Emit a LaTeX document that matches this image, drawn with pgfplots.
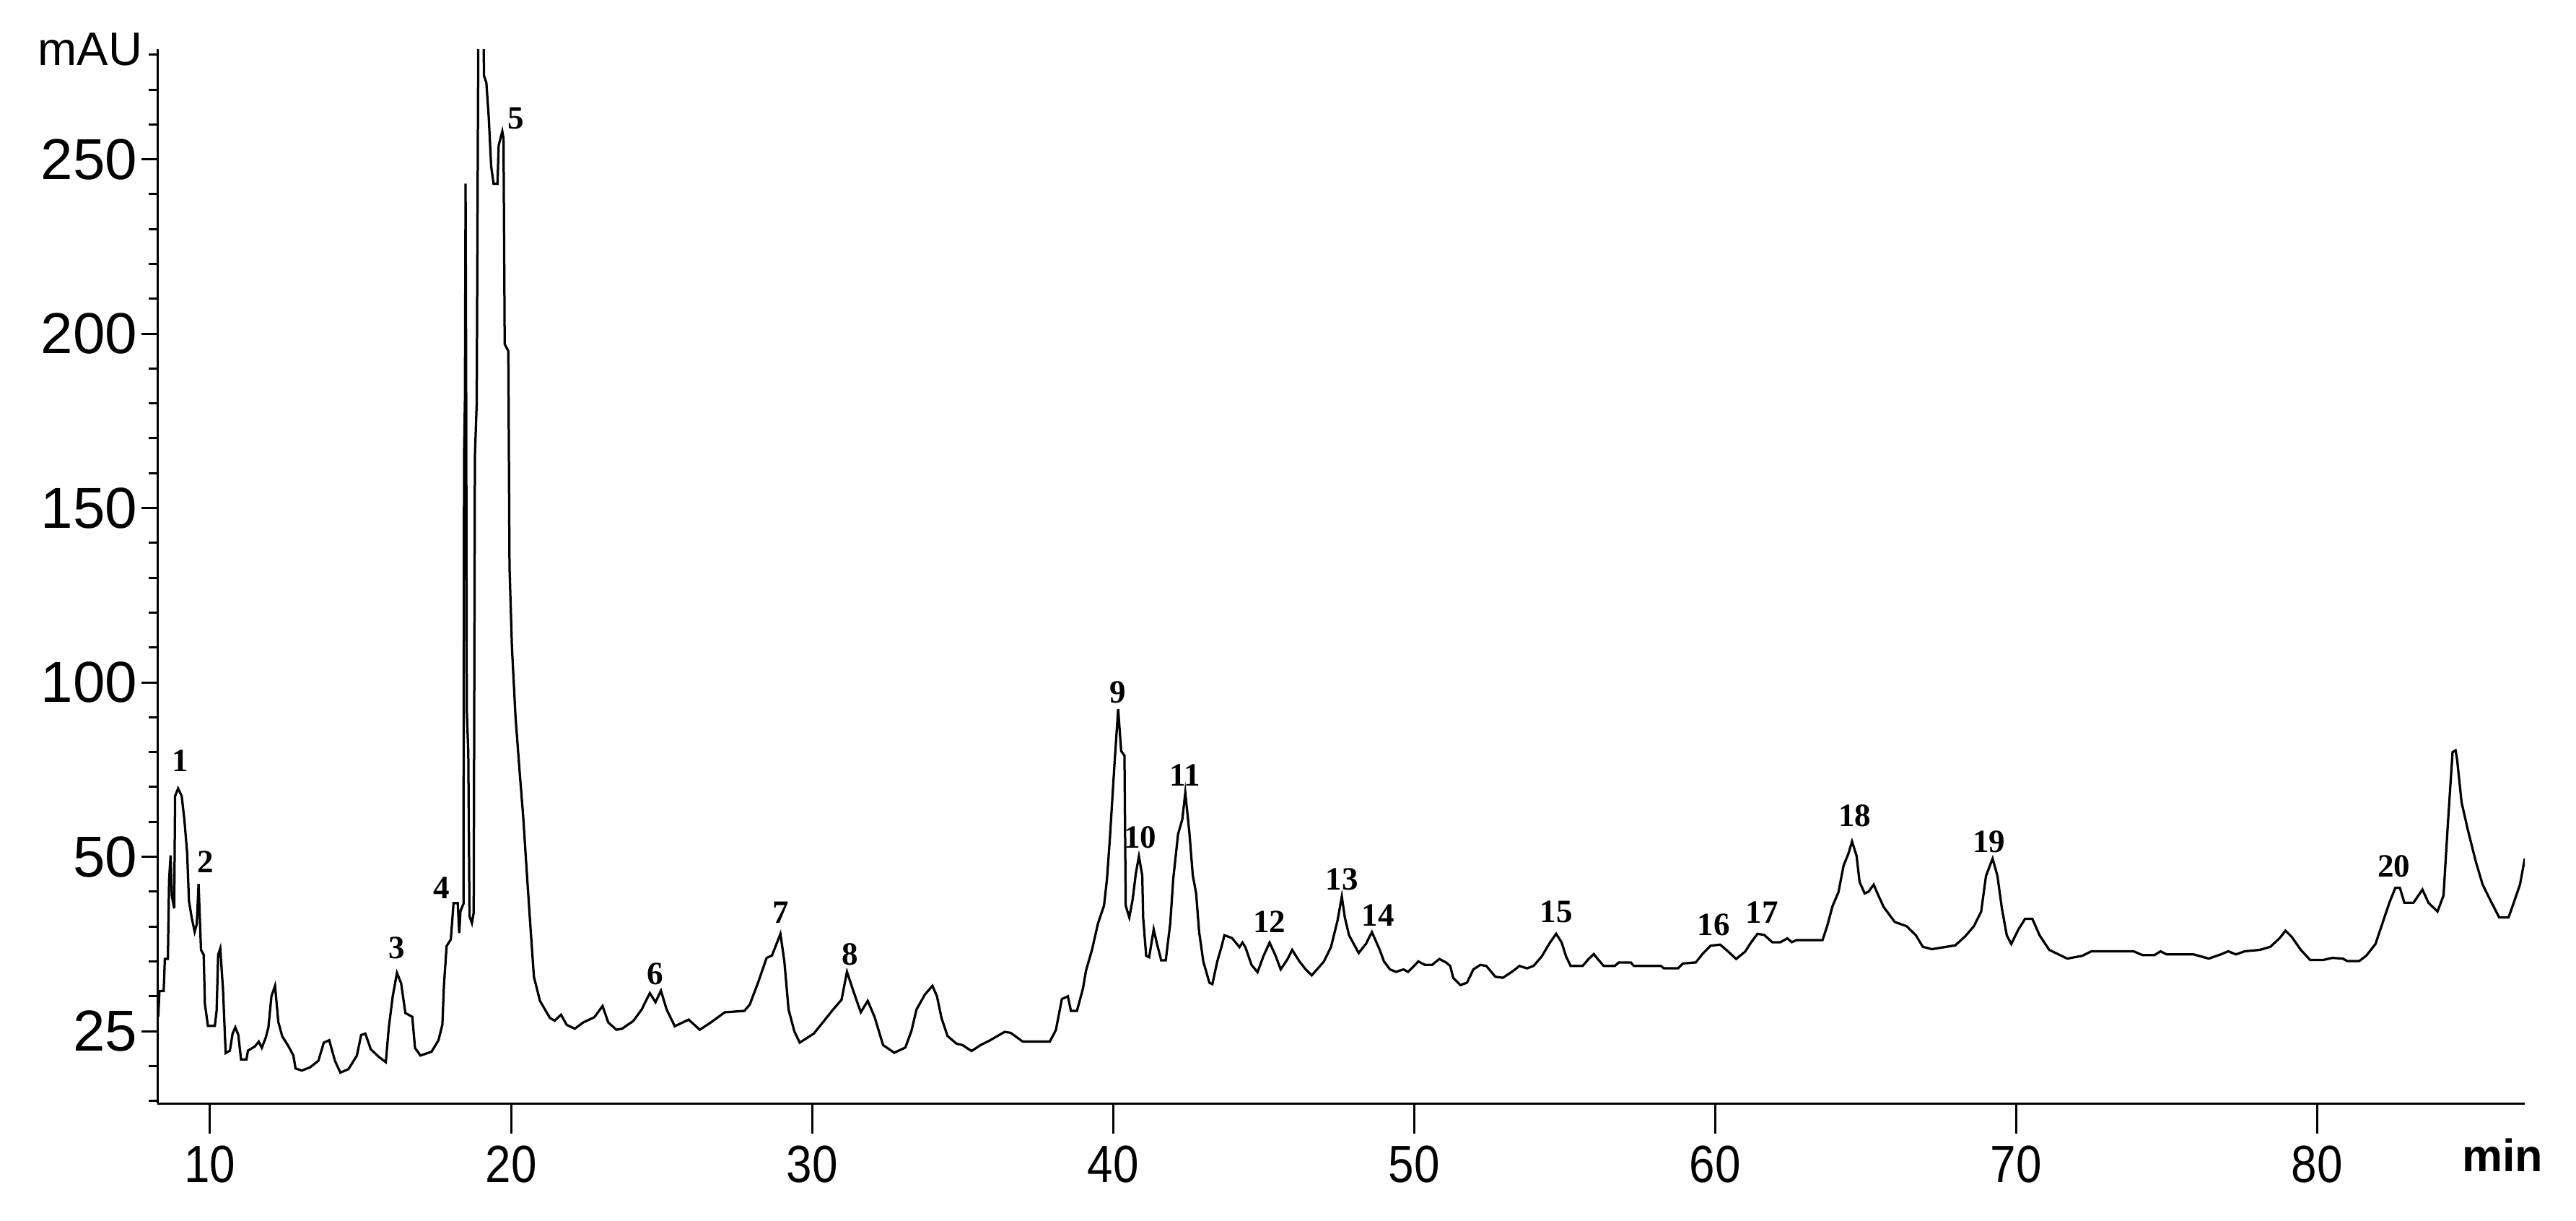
\documentclass[border=0pt]{standalone}
\usepackage{pgfplots}
\pgfplotsset{compat=1.18}
\usepackage{fontspec}
\setmainfont{Liberation Sans}
\newfontfamily\peakfont{Liberation Serif}

\newcommand\xl[1]{\scalebox{0.88}[1]{#1}}

% chromatogram trace, time (min) vs signal
\pgfplotstableread{
t y
8.28 4.1
8.32 11.5
8.46 11.5
8.5 20.7
8.6 20.7
8.64 43.3
8.69 50.4
8.73 38.9
8.81 35.2
8.84 67.4
8.94 69.6
9.06 67.4
9.15 60.4
9.24 51.1
9.3 37.4
9.39 32.6
9.49 28.5
9.56 30.7
9.62 42.2
9.7 23.3
9.79 21.9
9.83 7.8
9.93 1.5
10.16 1.5
10.22 5.9
10.27 21.9
10.34 23.7
10.43 12.2
10.52 -6.3
10.66 -5.6
10.75 -0.7
10.84 1.1
10.94 -1.1
11.03 -8.1
11.21 -8.1
11.26 -5.6
11.49 -4.4
11.62 -3
11.72 -4.8
11.85 -1.9
11.94 1.1
12.04 10
12.16 13
12.27 2.6
12.4 -1.5
12.59 -4.1
12.77 -7
12.84 -10.7
13.05 -11.3
13.32 -10.4
13.6 -8.5
13.78 -3.3
13.96 -2.6
14.15 -8.5
14.33 -11.9
14.6 -10.9
14.88 -7
15.02 -1.1
15.16 -0.7
15.34 -5.2
15.61 -7.4
15.84 -8.9
15.94 1.1
16.07 10
16.21 16.7
16.35 13.7
16.49 5.2
16.72 4.1
16.81 -4.8
16.99 -7
17.36 -5.9
17.59 -2.6
17.72 1.9
17.77 13
17.86 24.4
18.0 26.3
18.09 36.7
18.23 36.7
18.28 28.1
18.32 34.4
18.39 35.9
18.42 36.5
18.44 165
18.47 182
18.49 243
18.51 182
18.53 92
18.58 80
18.62 33
18.7 31
18.76 34
18.8 165
18.86 180
18.92 300
19.08 300
19.1 274
19.18 272
19.26 262
19.34 248
19.42 243
19.55 243
19.59 254
19.71 258
19.75 256
19.79 197
19.91 195
19.95 133
20.03 110
20.15 90
20.28 75
20.4 62
20.52 46
20.64 30.5
20.76 15.6
20.96 8.7
21.29 3.8
21.45 3
21.66 4.7
21.85 1.8
22.12 0.7
22.4 2.5
22.77 4
23.04 7.2
23.23 2.5
23.5 0.4
23.69 0.7
24.06 2.9
24.34 6.2
24.61 10.9
24.8 8.3
24.98 11.6
25.17 6.2
25.44 1.4
25.9 3.3
26.27 0.4
26.64 2.5
27.1 5.4
27.75 5.8
27.93 7.6
28.21 14
28.49 21
28.67 21.7
28.95 27.9
29.08 20
29.22 6.2
29.41 0
29.59 -3.3
30.06 -0.7
30.7 6.2
30.98 9
31.16 17
31.44 9.8
31.62 5.4
31.85 8.7
32.08 4
32.36 -4
32.73 -6.2
33.1 -4.7
33.3 0
33.47 6.2
33.75 10.5
34.0 13
34.15 10
34.3 3.8
34.5 -1.4
34.8 -3.6
35.0 -4
35.3 -5.7
35.6 -4
35.9 -2.7
36.4 -0.2
36.6 -0.5
37.0 -3
37.9 -3
38.1 0.3
38.3 9.2
38.5 10
38.6 5.8
38.8 5.8
39.0 12.2
39.1 17.3
39.3 23.3
39.5 30.9
39.7 36
39.8 43.7
39.9 56
40.05 76.9
40.17 92.3
40.27 80.3
40.38 79
40.42 36
40.54 32.6
40.65 37.7
40.76 45.4
40.86 50.1
40.97 44.6
41.0 32.6
41.1 21.6
41.2 21.2
41.35 29.2
41.46 25
41.6 20.3
41.75 20.3
41.9 30.9
42.0 43.7
42.16 56.5
42.3 60.7
42.4 68.4
42.54 56.5
42.65 44.6
42.76 39.5
42.86 28.4
43.0 19.9
43.2 13.9
43.3 13.5
43.46 19.9
43.6 24.1
43.7 27.5
43.95 26.7
44.2 24.1
44.3 25.4
44.4 24
44.6 19
44.8 16.9
45.0 21.6
45.2 25.4
45.4 21.6
45.57 17.7
45.8 20.7
45.95 23.3
46.2 19.9
46.4 17.7
46.6 16
47.0 19.9
47.24 24.1
47.46 31.8
47.6 38.6
47.7 32.6
47.84 27.5
48.16 22.4
48.4 25
48.6 28.4
48.85 23.5
49.0 20
49.2 17.7
49.4 17
49.65 17.7
49.8 17
50.0 18.7
50.14 20
50.36 19
50.6 19
50.84 20.7
51.06 19.7
51.2 18.7
51.3 15.3
51.54 13.2
51.76 13.9
51.97 17.7
52.2 19
52.4 18.7
52.7 15.6
52.95 15.3
53.3 17.3
53.5 18.7
53.75 18
53.97 18.7
54.24 21.4
54.5 25.2
54.72 27.9
54.9 25.5
55.05 21.4
55.2 18.7
55.6 18.7
55.8 20.7
55.97 22.1
56.1 20.7
56.3 18.7
56.67 18.7
56.8 19.7
57.2 19.7
57.3 18.7
58.2 18.7
58.3 18
58.77 18
58.93 19.4
59.36 19.7
59.58 22.1
59.85 24.5
60.17 24.8
60.4 23.1
60.7 20.7
61.0 22.8
61.2 25.5
61.41 27.9
61.63 27.6
61.9 25.5
62.17 25.5
62.4 26.6
62.55 25.5
62.7 26.1
63.57 26.1
63.73 30.3
63.9 35.8
64.1 39.9
64.27 47.5
64.43 50.9
64.55 54.4
64.7 50.3
64.8 42.8
64.97 39.5
65.1 40
65.27 42
65.4 39.4
65.6 35.6
65.97 31.3
66.36 30.1
66.67 27.5
66.9 24.2
67.2 23.5
67.98 24.6
68.3 27.1
68.6 30.1
68.84 34.3
69.0 44.5
69.22 49.5
69.38 44.5
69.53 35.1
69.69 27.5
69.84 25
70.08 29.2
70.3 32.2
70.54 32.2
70.78 27.5
71.1 23.3
71.7 20.8
72.2 21.6
72.5 22.9
73.9 22.9
74.2 21.8
74.6 21.8
74.8 22.9
75.0 22
75.9 22
76.4 20.8
76.8 22
77.05 22.9
77.3 22
77.6 22.9
78.1 23.3
78.45 24.2
78.76 26.7
78.95 28.8
79.15 27.1
79.46 23.3
79.77 20.4
80.2 20.4
80.5 21
80.85 20.8
81.0 20.1
81.4 20.1
81.63 21.6
81.94 25
82.17 30.9
82.4 36.8
82.6 41.1
82.75 41.1
82.9 36.8
83.2 36.8
83.5 40.6
83.7 36.8
84.0 34.3
84.2 38.9
84.34 58.8
84.5 80
84.6 80.5
84.65 78
84.8 65.6
85.0 58
85.27 48.7
85.5 42
85.8 36.8
86.05 32.6
86.36 32.6
86.5 36
86.74 42
86.9 49.5
}\trace

\begin{document}
\begin{tikzpicture}
\useasboundingbox (-43.6pt,-32.4pt) rectangle (670.2pt,305.6pt);
\begin{axis}[
 scale only axis,
 width=656pt, height=292pt,
 xmin=8.25, xmax=86.9,
 ymin=-20.7, ymax=281.6,
 axis x line*=bottom,
 axis y line*=left,
 axis line style={line width=0.6pt},
 clip mode=individual,
 tick align=outside,
 major tick length=4.4pt,
 minor tick length=2.4pt,
 every tick/.style={black, line width=0.6pt},
 xtick=\empty,
 extra x ticks={10,20,...,80},
 extra x tick labels={\xl{10},\xl{20},\xl{30},\xl{40},\xl{50},\xl{60},\xl{70},\xl{80}},
 extra x tick style={major tick length=8.3pt, tick label style={font=\fontsize{14.5}{16}\selectfont}},
 minor xtick={12,14,16,18,22,24,26,28,32,34,36,38,42,44,46,48,52,54,56,58,62,64,66,68,72,74,76,78,82,84,86},
 ytick={0,50,100,150,200,250},
 yticklabels={25,50,100,150,200,250},
 minor ytick={-20,-10,10,20,30,40,60,70,80,90,110,120,130,140,160,170,180,190,210,220,230,240,260,270,280},
 yticklabel style={font=\fontsize{16}{18}\selectfont, inner sep=1pt},
 /pgf/number format/assume math mode=true,
]
\addplot[black, line width=0.65pt] table[x=t, y=y] {\trace};

\node[anchor=east, inner sep=0pt, xshift=-4pt, font=\fontsize{13}{15}\selectfont]
 at (rel axis cs:0,1) {mAU};
\node[font=\bfseries\fontsize{12.6}{14}\selectfont] at (axis cs:86.16,-35.6) {min};

\begin{scope}[every node/.style={font=\peakfont\bfseries\fontsize{9}{10}\selectfont}]
\node at (axis cs:9.0,77.6) {1};
\node at (axis cs:9.84,48.6) {2};
\node at (axis cs:16.21,23.8) {3};
\node at (axis cs:17.7,41) {4};
\node at (axis cs:20.15,261.7) {5};
\node at (axis cs:24.8,16.4) {6};
\node at (axis cs:28.95,34.1) {7};
\node at (axis cs:31.26,22) {8};
\node at (axis cs:40.17,97.2) {9};
\node at (axis cs:40.9,55.6) {10};
\node at (axis cs:42.4,73.4) {11};
\node at (axis cs:45.2,31.3) {12};
\node at (axis cs:47.6,43.5) {13};
\node at (axis cs:48.8,33.2) {14};
\node at (axis cs:54.72,34.1) {15};
\node at (axis cs:59.95,30.4) {16};
\node at (axis cs:61.56,34.1) {17};
\node at (axis cs:64.64,61.7) {18};
\node at (axis cs:69.1,54.2) {19};
\node at (axis cs:82.55,47.2) {20};
\end{scope}
\end{axis}
\end{tikzpicture}
\end{document}
